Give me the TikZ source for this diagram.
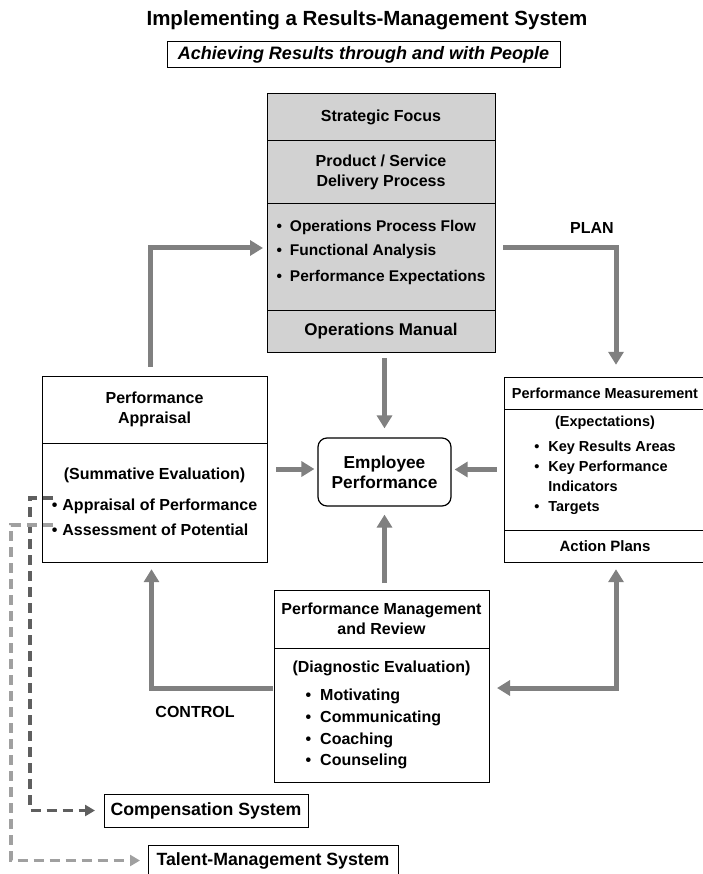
\documentclass[tikz,border=0pt]{standalone}
\usepackage{fontspec}
\setmainfont{Liberation Sans}
\usepackage{xcolor}
\usetikzlibrary{arrows.meta, positioning, fit}

\definecolor{boxgray}{RGB}{210,210,210}
\definecolor{flowgray}{RGB}{128,128,128}
\definecolor{darkdash}{RGB}{95,95,95}
\definecolor{lightdash}{RGB}{160,160,160}
\newcommand{\itembul}[1]{\textbullet\hspace{#1}}

\begin{document}
\begin{tikzpicture}[x=1pt, y=-1pt,
    txt/.style={font=\bfseries\fontsize{16}{20}\selectfont},
    small/.style={font=\bfseries\fontsize{14.5}{20}\selectfont},
    sect/.style={draw, line width=1pt, inner sep=0pt, outer sep=0pt, align=center, txt},
    graysect/.style={sect, fill=boxgray},
    flow/.style={draw=flowgray, line width=5pt, -{Triangle[width=15pt, length=13pt]}},
    both/.style={flow, {Triangle[width=15pt, length=13pt]}-{Triangle[width=15pt, length=13pt]}},
    feed/.style={line width=3.5pt, dash pattern=on 10pt off 6pt, -{Triangle[width=11pt, length=10pt]}}]
    \useasboundingbox (0,0) rectangle (702,874);

    % Tiêu đề
    \node[font=\bfseries\fontsize{20.5}{24}\selectfont] (title) at (367,20) {Implementing a Results-Management System};
    \node[draw, line width=1pt, minimum width=393pt, minimum height=26pt, inner sep=0pt,
          font=\bfseries\itshape\fontsize{18}{21}\selectfont] (motto) at (363.5,55) {Achieving Results through and with People};

    % Khối trung tâm
    \node[graysect, minimum width=228pt, minimum height=47pt, anchor=north] (focus) at (381,94) {Strategic Focus};
    \node[graysect, minimum width=228pt, minimum height=63pt, below=0pt of focus] (delivery) {Product / Service\\Delivery Process};
    \node[graysect, minimum width=228pt, minimum height=106pt, below=0pt of delivery,
          font=\bfseries\fontsize{15.5}{25}\selectfont] (tools)
          {\begin{tabular}{@{}l@{}}\itembul{8pt}Operations Process Flow\\ \itembul{8pt}Functional Analysis\\ \itembul{8pt}Performance Expectations\\[12pt]\end{tabular}};
    \node[graysect, minimum width=228pt, minimum height=42pt, below=0pt of tools,
          font=\bfseries\fontsize{17}{20}\selectfont] (manual) {Operations Manual};
    \node[fit=(focus)(manual), inner sep=0pt] (plan) {};

    % Đánh giá
    \node[sect, minimum width=225pt, minimum height=67pt, anchor=north] (apphead) at (154.5,376) {Performance\\Appraisal};
    \node[sect, minimum width=225pt, minimum height=119pt, below=0pt of apphead,
          font=\bfseries\fontsize{16}{25}\selectfont] (appbody)
          {\begin{tabular}{@{}l@{}}\multicolumn{1}{c}{(Summative Evaluation)}\\[6pt] \itembul{5pt}Appraisal of Performance\\ \itembul{5pt}Assessment of Potential\end{tabular}};
    \node[fit=(apphead)(appbody), inner sep=0pt] (appraisal) {};

    % Đo lường
    \node[sect, small, minimum width=202pt, minimum height=32pt, anchor=north] (meashead) at (605,377) {Performance Measurement};
    \node[sect, small, minimum width=202pt, minimum height=121pt, below=0pt of meashead] (measbody)
          {\begin{tabular}{@{}l@{\hspace{9pt}}l@{}}\multicolumn{2}{c}{(Expectations)}\\[5pt] \textbullet & Key Results Areas\\ \textbullet & Key Performance\\ & Indicators\\ \textbullet & Targets\\[10pt]\end{tabular}};
    \node[sect, minimum width=202pt, minimum height=32pt, below=0pt of measbody,
          font=\bfseries\fontsize{15}{20}\selectfont] (actions) {Action Plans};
    \node[fit=(meashead)(actions), inner sep=0pt] (measure) {};

    % Nhân viên
    \node[draw, line width=1.2pt, rounded corners=9pt, minimum width=133pt, minimum height=68pt, align=center,
          font=\bfseries\fontsize{17.3}{20}\selectfont] (emp) at (384.5,472) {Employee\\Performance};

    % Quản lý và xem xét
    \node[sect, minimum width=215pt, minimum height=58pt, anchor=north] (revhead) at (381.5,590) {Performance Management\\and Review};
    \node[sect, minimum width=215pt, minimum height=134pt, below=0pt of revhead,
          font=\bfseries\fontsize{16}{21.7}\selectfont] (revbody)
          {\begin{tabular}{@{\hspace{13pt}}l@{}}\multicolumn{1}{@{}c@{}}{(Diagnostic Evaluation)}\\[6.3pt] \itembul{9pt}Motivating\\ \itembul{9pt}Communicating\\ \itembul{9pt}Coaching\\ \itembul{9pt}Counseling\end{tabular}};
    \node[fit=(revhead)(revbody), inner sep=0pt] (review) {};

    % Hệ thống liên quan
    \node[sect, minimum width=204pt, minimum height=33pt, font=\bfseries\fontsize{17.7}{20}\selectfont] (comp) at (206,810.5) {Compensation System};
    \node[sect, minimum width=250pt, minimum height=31pt, font=\bfseries\fontsize{17.7}{20}\selectfont] (talent) at (273,860.5) {Talent-Management System};

    % Mũi tên chính
    \draw[flow, shorten <=6pt, shorten >=9pt] (manual.south -| emp.north) -- (emp.north);
    \draw[flow, shorten <=7pt, shorten >=8pt] (revhead.north -| emp.south) -- (emp.south);
    \draw[flow, shorten <=9pt, shorten >=3pt] (appraisal.east) -- (appraisal.east -| emp.west);
    \draw[flow, shorten <=7pt, shorten >=3pt] (measure.west) -- (measure.west -| emp.east);

    % Vòng lặp
    \draw[flow, shorten <=9pt, shorten >=4pt] ([xshift=-4pt]appraisal.north) |- ([yshift=9pt]tools.west);
    \draw[flow, shorten <=8pt, shorten >=12pt] ([yshift=9pt]tools.east) -| ([xshift=11pt]measure.north);
    \node[txt] (planlbl) at (592,228) {PLAN};
    \draw[flow, shorten <=1pt, shorten >=7pt] ([yshift=27pt]revbody.west) -| ([xshift=-3pt]appraisal.south);
    \node[txt] (ctrllbl) at (195,712) {CONTROL};
    \draw[both, shorten <=8pt, shorten >=7pt] ([yshift=27pt]revbody.east) -| ([xshift=11pt]measure.south);

    % Nét đứt
    \coordinate (paybul) at (53,498);
    \coordinate (potbul) at (53,525);
    \draw[feed, darkdash, shorten >=9pt] (paybul) -- ++(-23,0) |- (comp.west);
    \draw[feed, lightdash, shorten >=8pt] (potbul) -- ++(-42,0) |- (talent.west);

\end{tikzpicture}
\end{document}
